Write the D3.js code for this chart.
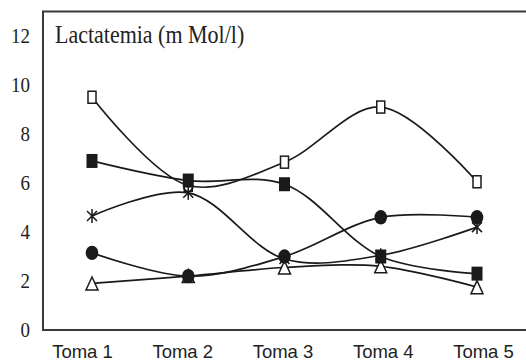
<!DOCTYPE html>
<html>
<head>
<meta charset="utf-8">
<script src="https://cdn.jsdelivr.net/npm/d3@7"></script>
<style>
  body { margin: 0; background: #fff; }
  .line { fill: none; stroke: #1a1a1a; stroke-width: 1.7; }
  .ytick text { font-family: "Liberation Serif", "Times New Roman", serif; font-size: 19px; fill: #222; }
  .xtick text { font-family: "Liberation Sans", Arial, sans-serif; font-size: 18.5px; fill: #222; }
</style>
</head>
<body>
<script>
// data
var tomas = ["Toma 1", "Toma 2", "Toma 3", "Toma 4", "Toma 5"];
var yTicks = [0, 2, 4, 6, 8, 10, 12];
var openSquare   = [9.5, 5.9, 6.85, 9.1, 6.05];
var filledSquare = [6.9, 6.1, 5.95, 3.0, 2.3];
var star         = [4.65, 5.6, 2.9, 3.05, 4.2];
var circle       = [3.15, 2.2, 3.0, 4.6, 4.6];
var triangle     = [1.9, 2.2, 2.55, 2.6, 1.75];

// drawing order: later ones sit on top
var series = [
  {name: "openSquare", values: openSquare},
  {name: "star", values: star},
  {name: "triangle", values: triangle},
  {name: "circle", values: circle},
  {name: "filledSquare", values: filledSquare}
];

var width = 526, height = 361;

var svg = d3.select("body").append("svg")
    .attr("width", width)
    .attr("height", height);

var x = d3.scalePoint().domain(tomas).range([92, 477]);
var xLabel = d3.scalePoint().domain(tomas).range([82, 483]);
var y = d3.scaleLinear().domain([0, 13]).range([330, 11.5]);

// frame (right side runs off the picture)
svg.append("path")
    .attr("d", "M" + (width + 2) + "," + y(13) + "H43V" + y(0) + "H" + (width + 2))
    .attr("fill", "none")
    .attr("stroke", "#3a3a3a")
    .attr("stroke-width", 2);

// y axis labels
var yAxis = svg.append("g")
    .attr("class", "ytick")
    .attr("transform", "translate(43,0)")
    .call(d3.axisLeft(y).tickValues(yTicks).tickSize(0).tickPadding(13));
yAxis.select(".domain").remove();
yAxis.selectAll("text")
    .attr("transform", "scale(1,1.15)")
    .attr("dy", "0.3em");

// x axis labels
var xAxis = svg.append("g")
    .attr("class", "xtick")
    .attr("transform", "translate(0," + y(0) + ")")
    .call(d3.axisBottom(xLabel).tickSize(0).tickPadding(15));
xAxis.select(".domain").remove();

// title
svg.append("text")
    .attr("x", 55)
    .attr("y", 43)
    .attr("font-family", "Liberation Serif, Times New Roman, serif")
    .attr("font-size", 22)
    .attr("fill", "#222")
    .attr("transform", "translate(0,-6.5) scale(1,1.15)")
    .text("Lactatemia (m Mol/l)");

var line = d3.line()
    .x(function(d, i) { return x(tomas[i]); })
    .y(function(d) { return y(d); })
    .curve(d3.curveCatmullRom.alpha(0.5));

svg.selectAll(".line")
    .data(series)
    .enter().append("path")
    .attr("class", "line")
    .attr("d", function(d) { return line(d.values); });

// markers
series.forEach(function(s) {
  var g = svg.append("g");
  var pts = g.selectAll("g")
      .data(s.values)
      .enter().append("g")
      .attr("transform", function(d, i) {
        return "translate(" + x(tomas[i]) + "," + y(d) + ")";
      });
  if (s.name === "openSquare") {
    pts.append("rect")
        .attr("x", -4).attr("y", -6).attr("width", 8).attr("height", 12)
        .attr("fill", "#fff").attr("stroke", "#1a1a1a").attr("stroke-width", 1.5);
  } else if (s.name === "filledSquare") {
    pts.append("rect")
        .attr("x", -5.5).attr("y", -7).attr("width", 11).attr("height", 14)
        .attr("fill", "#1a1a1a");
  } else if (s.name === "circle") {
    pts.append("ellipse")
        .attr("rx", 6.3).attr("ry", 7.2)
        .attr("fill", "#1a1a1a");
  } else if (s.name === "triangle") {
    pts.append("path")
        .attr("d", "M0,-6.5L6,6.5H-6Z")
        .attr("fill", "#fff").attr("stroke", "#1a1a1a").attr("stroke-width", 1.5);
  } else if (s.name === "star") {
    pts.append("path")
        .attr("d", "M0,-7V7M-5,-5L5,5M5,-5L-5,5")
        .attr("fill", "none").attr("stroke", "#1a1a1a").attr("stroke-width", 1.5);
  }
});
</script>
</body>
</html>
